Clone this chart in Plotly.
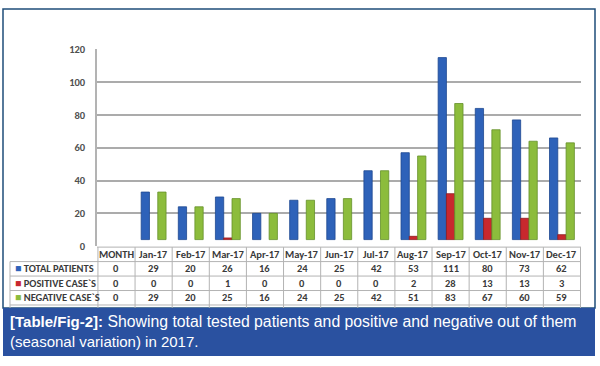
import plotly.graph_objects as go

# ---- data ----
months = ['MONTH', 'Jan-17', 'Feb-17', 'Mar-17', 'Apr-17', 'May-17', 'Jun-17',
          'Jul-17', 'Aug-17', 'Sep-17', 'Oct-17', 'Nov-17', 'Dec-17']
total_patients = [0, 29, 20, 26, 16, 24, 25, 42, 53, 111, 80, 73, 62]
positive_cases = [0, 0, 0, 1, 0, 0, 0, 0, 2, 28, 13, 13, 3]
negative_cases = [0, 29, 20, 25, 16, 24, 25, 42, 51, 83, 67, 60, 59]
series_names = ['TOTAL PATIENTS', 'POSITIVE CASE`S', 'NEGATIVE CASE`S']
y_ticks = [0, 20, 40, 60, 80, 100, 120]
caption_bold = '[Table/Fig-2]:'
caption_1 = ' Showing total tested patients and positive and negative out of them'
caption_2 = '(seasonal variation) in 2017.'

colors = ['#2e62b9', '#c8282e', '#8cbc3c']
edge = ['#1d4790', '#8e1a1e', '#64902a']
series = [total_patients, positive_cases, negative_cases]

W, H = 600, 366
def px(x):
    return x / W
def py(y):
    return 1 - y / H

TFONT = 'Carlito, Liberation Sans Narrow, Lato, sans-serif'
GRID = '#b3b3b3'
TXT = '#3a3a3a'

fig = go.Figure()
for name, vals, c, e in zip(series_names, series, colors, edge):
    fig.add_trace(go.Bar(
        x=months, y=vals, base=4, name=name,
        marker=dict(color=c, line=dict(color=e, width=[0.8 if v else 0 for v in vals])),
        showlegend=False,
    ))

# ---- table drawn under the axis ----
row_top = [250, 265, 280, 295]   # header + 3 rows, 15 px each
row_h = 15
table_bottom = 310
shapes = []
annotations = []

# outer panel border
shapes.append(dict(type='rect', xref='paper', yref='paper', x0=px(3), x1=px(595), y0=py(313), y1=py(3),
                   line=dict(color='#1f4e79', width=1.5), fillcolor='rgba(0,0,0,0)', layer='below'))

# horizontal table lines
shapes.append(dict(type='line', xref='paper', yref='paper', x0=px(97), x1=px(581), y0=py(250), y1=py(250),
                   line=dict(color=GRID, width=1)))
for yy in row_top[1:] + [table_bottom]:
    shapes.append(dict(type='line', xref='paper', yref='paper', x0=px(10), x1=px(581), y0=py(yy), y1=py(yy),
                       line=dict(color=GRID, width=1)))
# legend column left border
shapes.append(dict(type='line', xref='paper', yref='paper', x0=px(10), x1=px(10), y0=py(265), y1=py(313),
                   line=dict(color=GRID, width=1)))
# vertical column separators, on the category scale
for i in range(len(months) + 1):
    shapes.append(dict(type='line', xref='x', yref='paper', x0=i - 0.5, x1=i - 0.5, y0=py(250), y1=py(313),
                       line=dict(color=GRID, width=1)))

# header text
for m in months:
    annotations.append(dict(xref='x', yref='paper', x=m, y=py(row_top[0] + row_h / 2), showarrow=False,
                            xanchor='center', yanchor='middle', text=m,
                            font=dict(family=TFONT, size=10.5, color=TXT, weight='bold')))
# body text
for r, (name, vals, c) in enumerate(zip(series_names, series, colors)):
    yc = py(row_top[r + 1] + row_h / 2)
    annotations.append(dict(xref='paper', yref='paper', x=px(13), y=yc, showarrow=False,
                            xanchor='left', yanchor='middle',
                            text=f"<span style='color:{c}'>■</span> {name}",
                            font=dict(family=TFONT, size=10.5, color=TXT, weight='bold')))
    for m, v in zip(months, vals):
        annotations.append(dict(xref='x', yref='paper', x=m, y=yc, showarrow=False,
                                xanchor='center', yanchor='middle', text=str(v),
                                font=dict(family=TFONT, size=10.5, color=TXT, weight='bold')))

# caption
shapes.append(dict(type='rect', xref='paper', yref='paper', x0=px(3), x1=px(595), y0=py(363), y1=py(313),
                   line=dict(width=0), fillcolor='#2a51a0', layer='above'))
annotations.append(dict(xref='paper', yref='paper', x=px(8), y=py(327), xanchor='left', yanchor='middle',
                        showarrow=False, align='left',
                        text=f"<b>{caption_bold}</b><span style='font-size:15.8px'>{caption_1}</span>",
                        font=dict(family='Liberation Sans, Arial, sans-serif', size=15, color='white')))
annotations.append(dict(xref='paper', yref='paper', x=px(8), y=py(348), xanchor='left', yanchor='middle',
                        showarrow=False, align='left', text=caption_2,
                        font=dict(family='Liberation Sans, Arial, sans-serif', size=15, color='white')))

fig.update_layout(
    autosize=True,
    margin=dict(l=0, r=0, t=0, b=0),
    paper_bgcolor='white', plot_bgcolor='white',
    barmode='group', bargap=0.33, bargroupgap=0.0,
    xaxis=dict(domain=[px(97), px(581)], showticklabels=False, showgrid=False,
               zeroline=False, showline=False, ticks=''),
    yaxis=dict(domain=[py(249), py(45)], range=[0, 120], tickvals=y_ticks,
               gridcolor='#ababab', gridwidth=1.5, zeroline=False,
               showline=True, linecolor=GRID, linewidth=1.5,
               ticklabelstandoff=8,
               tickfont=dict(family=TFONT, size=10.5, color='#505050', weight='bold')),
    shapes=shapes,
    annotations=annotations,
)

post = ("document.documentElement.style.margin='0px';document.body.style.margin='0px';"
        "document.documentElement.style.overflow='hidden';document.body.style.overflow='hidden';"
        "Plotly.Plots.resize(document.getElementById('{plot_id}'));")
fig.write_html('out.html', config={'displayModeBar': False, 'responsive': True},
               default_width='100vw', default_height='100vh', post_script=post)
